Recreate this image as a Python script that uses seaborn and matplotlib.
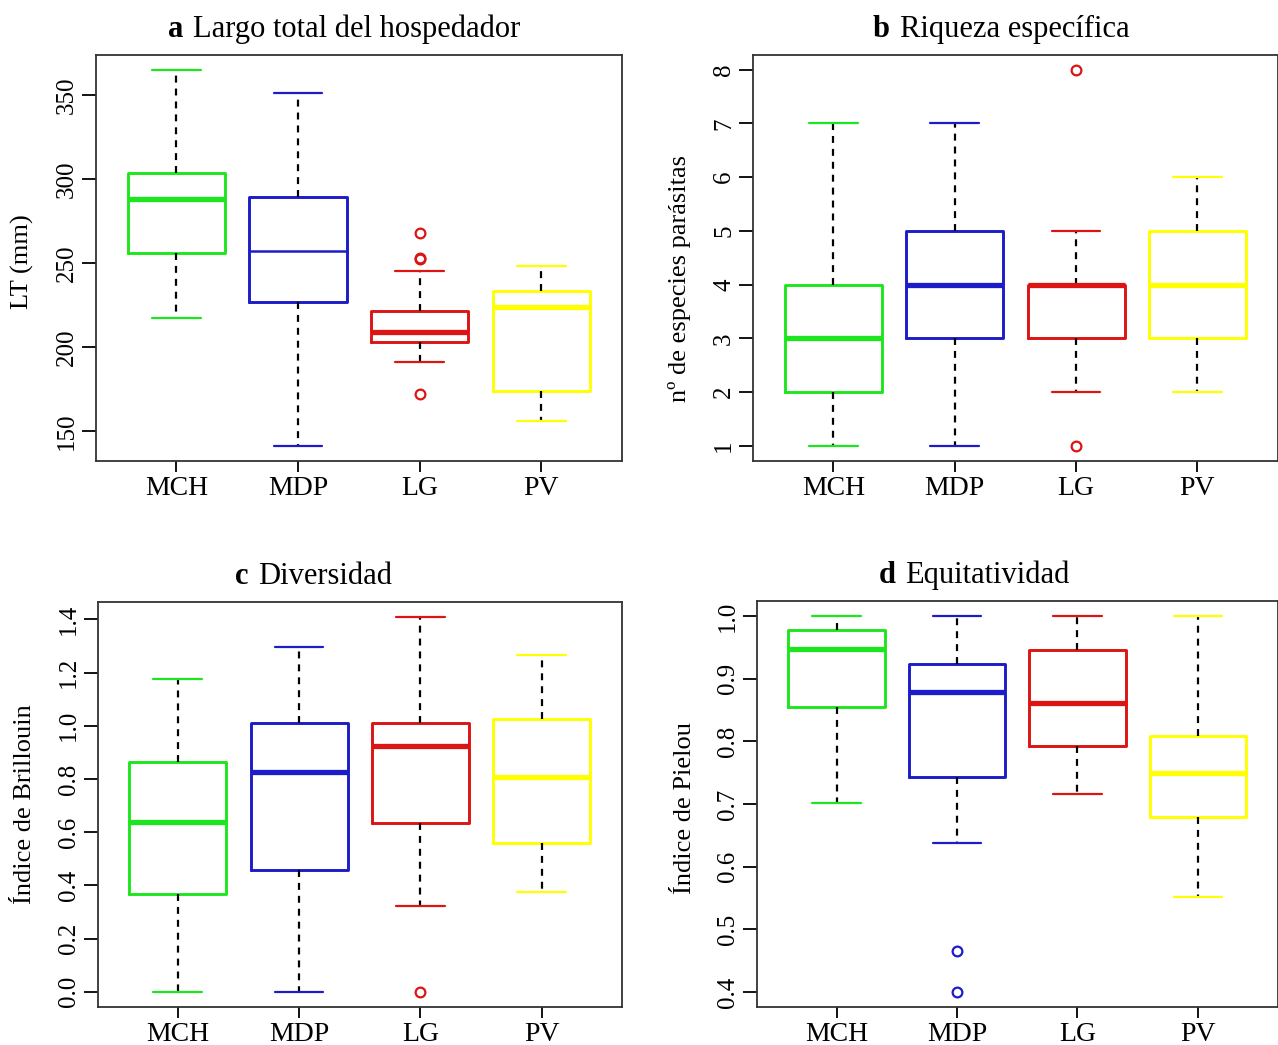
import matplotlib
matplotlib.use("Agg")
import matplotlib.pyplot as plt
import numpy as np
import pandas as pd
import seaborn as sns

# ---------------------------------------------------------------------------
# Data: five-number summaries (lower whisker, Q1, median, Q3, upper whisker)
# and outliers for each locality.
# ---------------------------------------------------------------------------
groups = ["MCH", "MDP", "LG", "PV"]
group_colors = ["#1ee61e", "#1c1cc8", "#dc1414", "#ffff00"]

# a  host total length (mm)
lt_low = [217, 141, 191, 156]
lt_q1 = [256, 226.5, 203, 173.5]
lt_med = [288, 257, 209, 223.5]
lt_q3 = [303.5, 289.5, 221.5, 233.5]
lt_high = [365, 351, 245, 248]
lt_out = [[], [], [172, 252.5, 253, 268], []]

# b  species richness
rich_low = [1, 1, 2, 2]
rich_q1 = [2, 3, 3, 3]
rich_med = [3, 4, 4, 4]
rich_q3 = [4, 5, 4, 5]
rich_high = [7, 7, 5, 6]
rich_out = [[], [], [1, 8], []]

# c  Brillouin diversity
bri_low = [0.0, 0.0, 0.322, 0.375]
bri_q1 = [0.367, 0.456, 0.636, 0.558]
bri_med = [0.638, 0.826, 0.922, 0.806]
bri_q3 = [0.864, 1.010, 1.012, 1.025]
bri_high = [1.176, 1.296, 1.410, 1.265]
bri_out = [[], [], [0.0], []]

# d  Pielou evenness
pie_low = [0.702, 0.637, 0.716, 0.551]
pie_q1 = [0.855, 0.743, 0.793, 0.679]
pie_med = [0.948, 0.878, 0.861, 0.750]
pie_q3 = [0.978, 0.924, 0.946, 0.808]
pie_high = [1.0, 1.0, 1.0, 1.0]
pie_out = [[], [0.466, 0.400], [], []]

lt_ticks = [150, 200, 250, 300, 350]
rich_ticks = [1, 2, 3, 4, 5, 6, 7, 8]
bri_ticks = [0.0, 0.2, 0.4, 0.6, 0.8, 1.0, 1.2, 1.4]
pie_ticks = [0.4, 0.5, 0.6, 0.7, 0.8, 0.9, 1.0]


def sample_from_summary(low, q1, med, q3, high, out, reps=20):
    """Sample whose quartiles and whiskers equal the given summary."""
    return [low] + [q1] * reps + [med] * reps + [q3] * reps + [high] + list(out)


panels = [
    dict(letter="a", title="Largo total del hospedador", ylabel="LT (mm)",
         stats=(lt_low, lt_q1, lt_med, lt_q3, lt_high, lt_out),
         ticks=lt_ticks, fmt="{:.0f}", thin_median=["MDP"],
         rect=(96, 54.7, 621.5, 461.0), title_x=0.137, label_y=0.49),
    dict(letter="b", title="Riqueza específica", ylabel="nº de especies parásitas",
         stats=(rich_low, rich_q1, rich_med, rich_q3, rich_high, rich_out),
         ticks=rich_ticks, fmt="{:.0f}", thin_median=[],
         rect=(753.3, 54.7, 1277.5, 461.0), title_x=0.228, label_y=0.45),
    dict(letter="c", title="Diversidad", ylabel="Índice de Brillouin",
         stats=(bri_low, bri_q1, bri_med, bri_q3, bri_high, bri_out),
         ticks=bri_ticks, fmt="{:.1f}", thin_median=[],
         rect=(97.7, 601.7, 621.7, 1006.7), title_x=0.262, label_y=0.5),
    dict(letter="d", title="Equitatividad", ylabel="Índice de Pielou",
         stats=(pie_low, pie_q1, pie_med, pie_q3, pie_high, pie_out),
         ticks=pie_ticks, fmt="{:.1f}", thin_median=[],
         rect=(757.0, 601.0, 1277.5, 1007.0), title_x=0.233, label_y=0.49),
]

sns.set_theme(style="ticks")
plt.rcParams["font.family"] = ["Liberation Serif", "DejaVu Serif"]
plt.rcParams["lines.scale_dashes"] = False
plt.rcParams["axes.edgecolor"] = "#333333"
plt.rcParams["axes.linewidth"] = 1.3

W, H = 1278, 1045
fig = plt.figure(figsize=(W / 100, H / 100), dpi=100)
fig.patch.set_facecolor("white")

for p in panels:
    x0, y0, x1, y1 = p["rect"]
    ax = fig.add_axes([x0 / W, 1 - y1 / H, (x1 - x0) / W, (y1 - y0) / H])
    ax.set_facecolor("white")

    low, q1, med, q3, high, out = p["stats"]
    for i, g in enumerate(groups):
        values = sample_from_summary(low[i], q1[i], med[i], q3[i], high[i], out[i])
        sub = pd.DataFrame({"group": g, "value": values})
        mlw = 1.8 if g in p["thin_median"] else 3.8
        sns.boxplot(
            data=sub, x="group", y="value", order=groups,
            color=group_colors[i], saturation=1, fill=False,
            width=0.8, whis=1.5, linewidth=2.1, ax=ax,
            medianprops=dict(linewidth=mlw, solid_capstyle="butt"),
            whiskerprops=dict(color="black", linewidth=1.6,
                              linestyle=(0, (5, 4.3))),
            capprops=dict(linewidth=1.6),
            flierprops=dict(marker="o", markersize=7,
                            markerfacecolor="none", markeredgewidth=1.6),
        )

    # axis limits extended 4 % beyond the data range
    all_vals = list(low) + list(high) + [v for o in out for v in o]
    lo, hi = min(all_vals), max(all_vals)
    pad = 0.04 * (hi - lo)
    ax.set_ylim(lo - pad, hi + pad)
    ax.set_xlim(-0.66, 3.66)

    ax.set_yticks(p["ticks"])
    ax.set_yticklabels([p["fmt"].format(t) for t in p["ticks"]])
    ax.set_xticks(range(len(groups)))
    ax.set_xticklabels(groups)
    ax.tick_params(axis="x", length=8, width=1.3, labelsize=20, pad=3,
                   color="black", labelcolor="black")
    ax.tick_params(axis="y", length=10, width=1.3, labelsize=18, pad=3,
                   color="black", labelcolor="black")
    plt.setp(ax.get_yticklabels(), rotation=90, va="center")

    ax.set_xlabel("")
    ax.set_ylabel(p["ylabel"], fontsize=19, color="black")
    ax.yaxis.set_label_coords(-0.118, p["label_y"])

    for s in ax.spines.values():
        s.set_visible(True)

    # panel title: bold letter followed by regular text
    t = ax.annotate(p["letter"], xy=(p["title_x"], 1), xycoords="axes fraction",
                    xytext=(0, 13), textcoords="offset points",
                    ha="left", va="baseline", fontsize=22, fontweight="bold",
                    color="black")
    ax.annotate(p["title"], xy=(1, 0), xycoords=t, xytext=(7, 0),
                textcoords="offset points", ha="left", va="bottom",
                fontsize=22, color="black")

fig.savefig("out.png", dpi=100, facecolor="white")
